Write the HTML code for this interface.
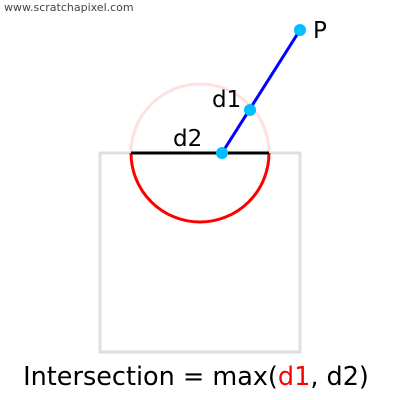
<!DOCTYPE html>
<html><head><meta charset="utf-8"><style>body{margin:0;background:#fff}svg{display:block}text{font-family:"DejaVu Sans","Liberation Sans",sans-serif}</style></head>
<body>
<svg width="400" height="400" viewBox="0 0 400 400">
<text x="4" y="11" font-size="11" fill="#444">www.scratchapixel.com</text>
<rect x="100" y="153" width="200" height="199" fill="none" stroke="#e0e0e0" stroke-width="3"/>
<path d="M131 153 A69 69 0 0 1 269 153" fill="none" stroke="#ffe0e0" stroke-width="3"/>
<path d="M131 153 A69 69 0 0 0 269 153" fill="none" stroke="#f00" stroke-width="3"/>
<line x1="131" y1="153" x2="269" y2="153" stroke="#000" stroke-width="3"/>
<line x1="222" y1="153" x2="300" y2="30" stroke="#00f" stroke-width="3"/>
<circle cx="222" cy="153" r="6" fill="#00bfff"/>
<circle cx="250" cy="110" r="6" fill="#00bfff"/>
<circle cx="300" cy="30" r="6" fill="#00bfff"/>
<text x="313" y="38" font-size="23" fill="#000">P</text>
<text x="212" y="107" font-size="23" fill="#000">d1</text>
<text x="173" y="146" font-size="23" fill="#000">d2</text>
<text x="196" y="385" font-size="25.5" fill="#000" text-anchor="middle">Intersection = max(<tspan fill="#f00">d1</tspan>, d2)</text>
</svg>
</body></html>
